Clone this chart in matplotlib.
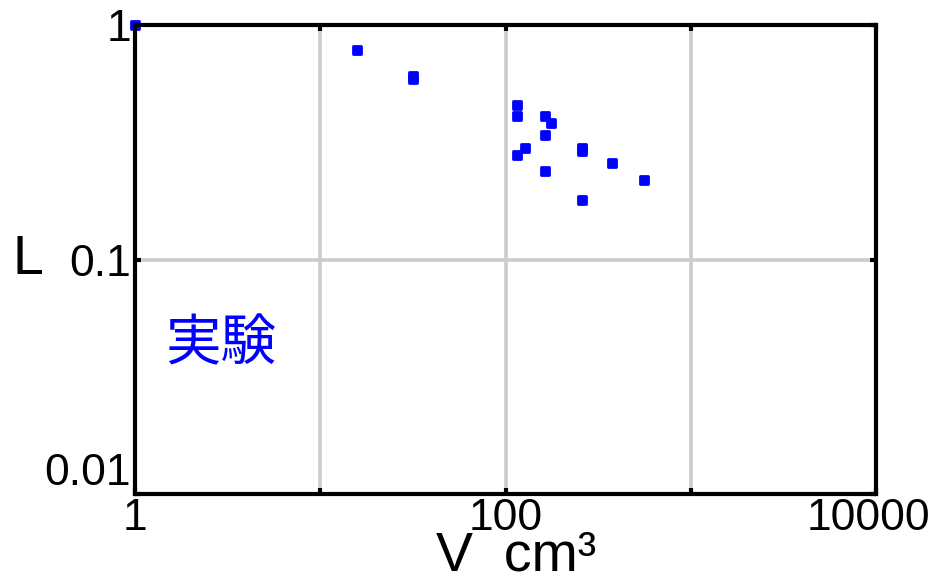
import matplotlib
matplotlib.use("Agg")
import matplotlib.pyplot as plt
from matplotlib.markers import MarkerStyle
from matplotlib.transforms import ScaledTranslation

plt.rcParams["font.family"] = ["Liberation Sans", "Noto Sans CJK JP", "DejaVu Sans"]

# measured volume (cm^3) and L
volume = [1, 15.8, 31.6, 31.6, 116, 116, 163, 175, 163, 128, 116, 260, 260, 376, 163, 561, 260]
l_value = [1.0, 0.78, 0.604, 0.588, 0.457, 0.408, 0.408, 0.381, 0.339, 0.299, 0.279,
           0.298, 0.289, 0.259, 0.239, 0.219, 0.179]

x_ticks = [1, 100, 10000]
x_ticklabels = ["1", "100", "10000"]
y_ticks = [0.01, 0.1, 1]
y_ticklabels = ["0.01", "0.1", "1"]

BLUE = "#0000ff"

fig = plt.figure(figsize=(9.35, 5.82), dpi=100)
ax = fig.add_axes([0.1444, 0.1512, 0.7925, 0.8058])

ax.set_xscale("log")
ax.set_yscale("log")
ax.set_xlim(1, 10000)
ax.set_ylim(0.01, 1)

ax.plot(volume, l_value, linestyle="none",
        marker=MarkerStyle("s", joinstyle="round"),
        markersize=6, markeredgewidth=2,
        color=BLUE, markeredgecolor=BLUE, clip_on=False, zorder=2)

# grid on the decades only
for gx in [10, 100, 1000]:
    ax.axvline(gx, color="#cccccc", lw=2.6, zorder=0)
ax.axhline(0.1, color="#cccccc", lw=2.6, zorder=0)

ax.set_xticks(x_ticks)
ax.set_xticklabels(x_ticklabels)
ax.set_yticks(y_ticks)
ax.set_yticklabels(y_ticklabels)
ax.xaxis.set_minor_locator(matplotlib.ticker.NullLocator())
ax.yaxis.set_minor_locator(matplotlib.ticker.NullLocator())
ax.set_xticks([10, 100, 1000], minor=True)
ax.set_yticks([0.1], minor=True)

ax.tick_params(which="both", direction="in", top=True, right=True,
               length=4, width=3, color="black", labelsize=32, pad=3)
ax.tick_params(which="minor", labelbottom=False, labelleft=False)
ax.get_yticklabels()[0].set_verticalalignment("bottom")
# pull the last x label back inside the figure
last = ax.get_xticklabels()[-1]
last.set_transform(last.get_transform() + ScaledTranslation(-8 / 100, 0, fig.dpi_scale_trans))

for spine in ax.spines.values():
    spine.set_linewidth(3)
    spine.set_color("black")

ax.set_xlabel("V  cm³", fontsize=40)
ax.xaxis.set_label_coords(0.515, -0.078)
ax.set_ylabel("L", fontsize=40, rotation=0, va="center", ha="center")
ax.yaxis.set_label_coords(-0.145, 0.5)

ax.text(0.116, 0.318, "実験", transform=ax.transAxes, fontsize=40,
        color=BLUE, ha="center", va="center",
        family=["Noto Sans CJK JP", "DejaVu Sans"])

fig.savefig("out.png", dpi=100, facecolor="white")
